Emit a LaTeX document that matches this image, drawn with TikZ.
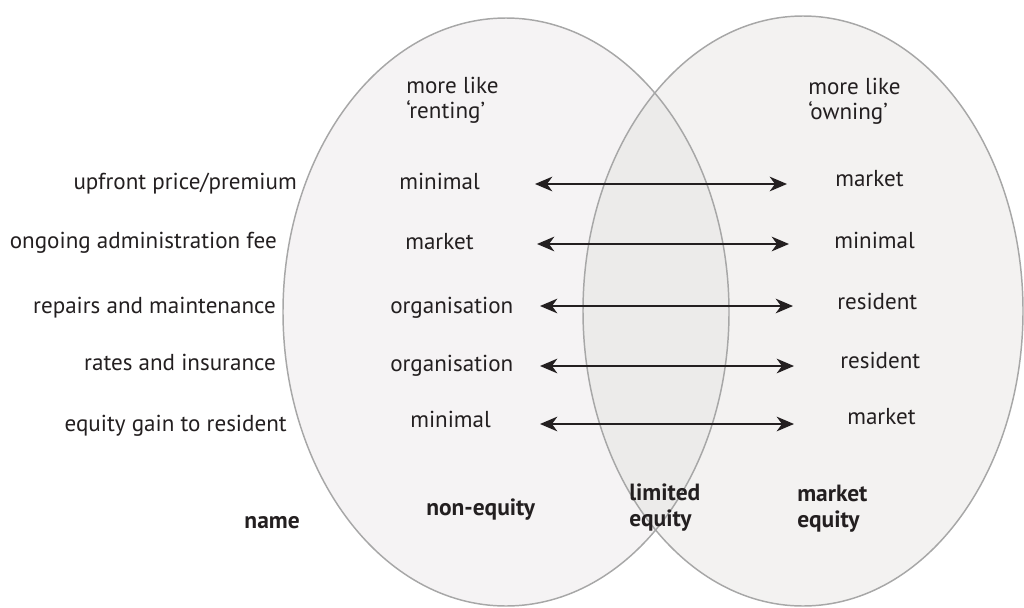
\documentclass[tikz,border=0pt]{standalone}
\usepackage{fontspec}
\setmainfont{PT Sans}
\usetikzlibrary{arrows.meta}
\definecolor{inktext}{HTML}{231F20}
\definecolor{rimgray}{HTML}{A7A7A7}
\definecolor{rentfill}{HTML}{F5F3F4}
\definecolor{ownfill}{HTML}{F3F2F1}
\definecolor{bothfill}{HTML}{ECEBEA}
\tikzset{
  lbl/.style={text=inktext,font=\fontsize{17.3}{20}\selectfont,inner sep=0pt,yshift=-2.5pt},
  hdr/.style={lbl,align=left,anchor=mid west},
  kind/.style={lbl,font=\fontsize{17.6}{19.5}\selectfont\bfseries,align=left},
  rim/.style={draw=rimgray,line width=1.1pt},
  twoway/.style={{Stealth[length=13pt,width=11pt,inset=4pt]}-{Stealth[length=13pt,width=11pt,inset=4pt]},line width=1.3pt,draw=inktext}
}
\begin{document}
\begin{tikzpicture}[x=0.75pt,y=-0.75pt]
\useasboundingbox (0,0) rectangle (1024,607);
% the two sets
\fill[rentfill] (506,312) ellipse [x radius=223,y radius=294];
\fill[ownfill] (803,311) ellipse [x radius=220,y radius=295];
\begin{scope}
\clip (506,312) ellipse [x radius=223,y radius=294];
\fill[bothfill] (803,311) ellipse [x radius=220,y radius=295];
\end{scope}
\draw[rim] (506,312) ellipse [x radius=223,y radius=294];
\draw[rim] (803,311) ellipse [x radius=220,y radius=295];
% headings
\node[hdr] (rent1) at (406,87) {more like};
\node[hdr] (rent2) at (406,112) {‘renting’};
\node[hdr] (own1) at (808,88) {more like};
\node[hdr] (own2) at (808,113) {‘owning’};
% rows
\node[lbl,anchor=mid east] (f1) at (297,183) {upfront price/premium};
\node[lbl,anchor=mid east] (f2) at (277,242) {ongoing administration fee};
\node[lbl,anchor=mid east] (f3) at (276,307) {repairs and maintenance};
\node[lbl,anchor=mid east] (f4) at (276,364) {rates and insurance};
\node[lbl,anchor=mid east] (f5) at (287,425) {equity gain to resident};
\node[lbl,anchor=mid west] (l1) at (399,183) {minimal};
\node[lbl,anchor=mid west] (l2) at (405,243) {market};
\node[lbl,anchor=mid west] (l3) at (390,307) {organisation};
\node[lbl,anchor=mid west] (l4) at (390,365) {organisation};
\node[lbl,anchor=mid west] (l5) at (410,421) {minimal};
\node[lbl,anchor=mid west] (r1) at (835,180) {market};
\node[lbl,anchor=mid west] (r2) at (834,242) {minimal};
\node[lbl,anchor=mid west] (r3) at (837,303) {resident};
\node[lbl,anchor=mid west] (r4) at (840,362) {resident};
\node[lbl,anchor=mid west] (r5) at (847,418) {market};
\foreach \y/\a/\b [count=\i] in {184/535/787,244/537/789,306/540/793,366/540/794,424/540/794}
{
\coordinate (al\i) at (\a,\y);
\coordinate (ar\i) at (\b,\y);
\draw[twoway] (al\i) -- (ar\i);
}
% names
\node[kind,anchor=mid east] (nm) at (300,522) {name};
\node[kind,anchor=mid west] (ne) at (426,509) {non-equity};
\node[kind,anchor=mid west] (le1) at (629,494) {limited};
\node[kind,anchor=mid west] (le2) at (629,520) {equity};
\node[kind,anchor=mid west] (me1) at (797,495) {market};
\node[kind,anchor=mid west] (me2) at (797,521) {equity};
\end{tikzpicture}
\end{document}
